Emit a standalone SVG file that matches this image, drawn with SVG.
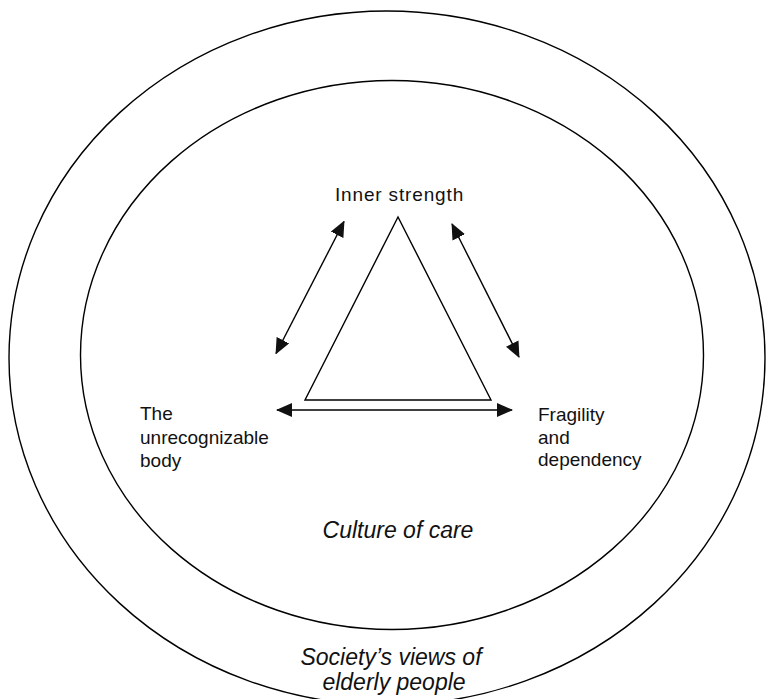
<svg xmlns="http://www.w3.org/2000/svg" width="766" height="699" viewBox="0 0 766 699">
<style>
.ln{fill:none;stroke:#000;stroke-width:1.4}
.t{font-family:"Liberation Sans",Arial,sans-serif;font-size:19px;fill:#111}
.it{font-family:"Liberation Sans",Arial,sans-serif;font-size:23px;font-style:italic;fill:#111}
</style>
<defs>
<marker id="ah" viewBox="0 0 16 14" refX="15" refY="7" markerWidth="16" markerHeight="14" markerUnits="userSpaceOnUse" orient="auto-start-reverse">
<path d="M0,0 L16,7 L0,14 Z" fill="#111"/>
</marker>
</defs>
<rect width="766" height="699" fill="#fff"/>
<g id="outer"><ellipse class="ln" cx="387" cy="358" rx="378" ry="347"/>
<text class="it" x="391" y="665" text-anchor="middle">Society’s views of</text>
<text class="it" x="394" y="690" text-anchor="middle">elderly people</text></g>
<g id="inner"><ellipse class="ln" cx="392" cy="355" rx="311.5" ry="274.5"/>
<text class="it" x="398" y="538" text-anchor="middle">Culture of care</text></g>
<g id="triangle"><polygon class="ln" points="398,217 305,400 491,400"/></g>
<g id="inner-strength"><text class="t" x="399.5" y="201" text-anchor="middle" letter-spacing="0.85">Inner strength</text></g>
<g id="body"><text class="t" x="140" y="420">The</text><text class="t" x="140" y="444">unrecognizable</text><text class="t" x="140" y="467">body</text></g>
<g id="fragility"><text class="t" x="538" y="421">Fragility</text><text class="t" x="538" y="444">and</text><text class="t" x="538" y="466">dependency</text></g>
<g id="connectors">
<line class="ln" x1="276" y1="353.5" x2="344" y2="221.5" marker-start="url(#ah)" marker-end="url(#ah)"/>
<line class="ln" x1="452" y1="224" x2="519" y2="357" marker-start="url(#ah)" marker-end="url(#ah)"/>
<line class="ln" x1="277" y1="410" x2="512" y2="410" marker-start="url(#ah)" marker-end="url(#ah)"/>
</g>
</svg>
